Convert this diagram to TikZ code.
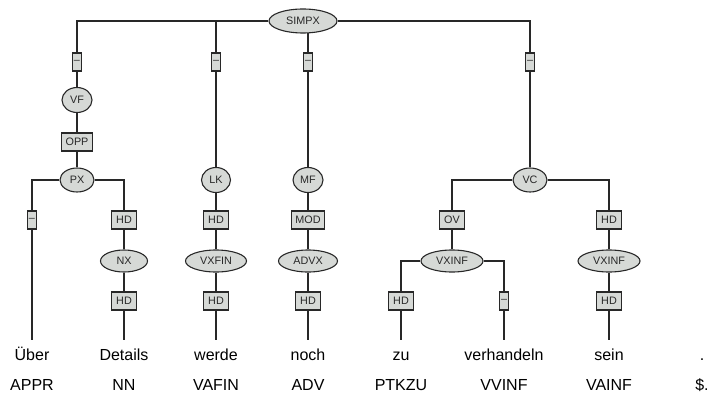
\documentclass[tikz,border=0pt]{standalone}
\usepackage{fontspec}
\setmainfont{Liberation Sans}
\usetikzlibrary{shapes.geometric,backgrounds}
\definecolor{lnc}{RGB}{40,40,40}
\definecolor{fillc}{RGB}{214,217,214}
\definecolor{txc}{RGB}{40,40,40}
\tikzset{
  catnode/.style={ellipse, draw=lnc, fill=fillc, line width=1.1pt, inner sep=0pt,
    minimum height=24pt, text=txc, font=\fontsize{10.8}{12}\selectfont},
  fnc/.style={rectangle, draw=lnc, fill=fillc, line width=1.1pt, inner xsep=4.3pt, inner ysep=0pt,
    minimum height=18pt, text=txc, font=\fontsize{10.8}{12}\selectfont},
  dfn/.style={fnc, inner xsep=1.4pt},
  wordnode/.style={anchor=base, inner xsep=0pt, inner ysep=8.5pt, text height=11pt, text depth=0pt,
    text=black, font=\fontsize{16}{18}\selectfont},
  postag/.style={anchor=base, inner sep=0pt, text=black, font=\fontsize{16}{18}\selectfont},
  conn/.style={draw=lnc, line width=1.3pt}
}
\begin{document}
\begin{tikzpicture}[x=1pt,y=-1pt]
\useasboundingbox (0,0) rectangle (708,393);
% nodes
\node[catnode, minimum width=68pt] (simpx) at (303,21) {SIMPX};
\node[dfn] (d1) at (77,62) {–};
\node[dfn] (d2) at (216,62) {–};
\node[dfn] (d3) at (308,62) {–};
\node[dfn] (d4) at (530,62) {–};
\node[catnode, minimum width=30pt, minimum height=25pt] (vf) at (77,100) {VF};
\node[fnc] (opp) at (77,142) {OPP};
\node[catnode, minimum width=34pt] (px) at (77,180) {PX};
\node[catnode, minimum width=29pt, minimum height=25pt] (lk) at (216,180) {LK};
\node[catnode, minimum width=30pt, minimum height=25pt] (mf) at (308,180) {MF};
\node[catnode, minimum width=34pt] (vc) at (530,180) {VC};
\node[dfn] (d5) at (32,220) {–};
\node[fnc] (hd1) at (124,220) {HD};
\node[fnc] (hd2) at (216,220) {HD};
\node[fnc] (mod) at (308,220) {MOD};
\node[fnc] (ov) at (452,220) {OV};
\node[fnc] (hd3) at (609,220) {HD};
\node[catnode, minimum width=47pt, minimum height=22pt] (nx) at (124,261) {NX};
\node[catnode, minimum width=61pt, minimum height=22pt] (vxfin) at (216,261) {VXFIN};
\node[catnode, minimum width=59pt, minimum height=22pt] (advx) at (308,261) {ADVX};
\node[catnode, minimum width=62pt, minimum height=22pt] (vxinf1) at (452,261) {VXINF};
\node[catnode, minimum width=62pt, minimum height=22pt] (vxinf2) at (609,261) {VXINF};
\node[fnc] (hd4) at (124,301) {HD};
\node[fnc] (hd5) at (216,301) {HD};
\node[fnc] (hd6) at (308,301) {HD};
\node[fnc] (hd7) at (401,301) {HD};
\node[dfn] (d6) at (504,301) {–};
\node[fnc] (hd8) at (609,301) {HD};
% words
\node[wordnode] (w1) at (32,360) {Über};
\node[wordnode] (w2) at (124,360) {Details};
\node[wordnode] (w3) at (216,360) {werde};
\node[wordnode] (w4) at (308,360) {noch};
\node[wordnode] (w5) at (401,360) {zu};
\node[wordnode] (w6) at (504,360) {verhandeln};
\node[wordnode] (w7) at (609,360) {sein};
\node[wordnode] (w8) at (702,360) {.};
\node[postag] (p1) at (32,390) {APPR};
\node[postag] (p2) at (124,390) {NN};
\node[postag] (p3) at (216,390) {VAFIN};
\node[postag] (p4) at (308,390) {ADV};
\node[postag] (p5) at (401,390) {PTKZU};
\node[postag] (p6) at (504,390) {VVINF};
\node[postag] (p7) at (609,390) {VAINF};
\node[postag] (p8) at (702,390) {\$.};
% edges
\begin{scope}[on background layer]
\draw[conn] (simpx) -| (d1);
\draw[conn] (simpx) -| (d2);
\draw[conn] (simpx.center -| d3) -- (d3);
\draw[conn] (simpx) -| (d4);
\draw[conn] (d1) -- (vf);
\draw[conn] (vf) -- (opp);
\draw[conn] (opp) -- (px);
\draw[conn] (d2) -- (lk);
\draw[conn] (d3) -- (mf);
\draw[conn] (d4) -- (vc);
\draw[conn] (px) -| (d5);
\draw[conn] (px) -| (hd1);
\draw[conn] (lk) -- (hd2);
\draw[conn] (mf) -- (mod);
\draw[conn] (vc) -| (ov);
\draw[conn] (vc) -| (hd3);
\draw[conn] (hd1) -- (nx);
\draw[conn] (hd2) -- (vxfin);
\draw[conn] (mod) -- (advx);
\draw[conn] (ov) -- (vxinf1);
\draw[conn] (hd3) -- (vxinf2);
\draw[conn] (nx) -- (hd4);
\draw[conn] (vxfin) -- (hd5);
\draw[conn] (advx) -- (hd6);
\draw[conn] (vxinf1) -| (hd7);
\draw[conn] (vxinf1) -| (d6);
\draw[conn] (vxinf2) -- (hd8);
\draw[conn] (d5) -- (w1);
\draw[conn] (hd4) -- (w2);
\draw[conn] (hd5) -- (w3);
\draw[conn] (hd6) -- (w4);
\draw[conn] (hd7) -- (w5);
\draw[conn] (d6) -- (w6);
\draw[conn] (hd8) -- (w7);
\end{scope}
\end{tikzpicture}
\end{document}
